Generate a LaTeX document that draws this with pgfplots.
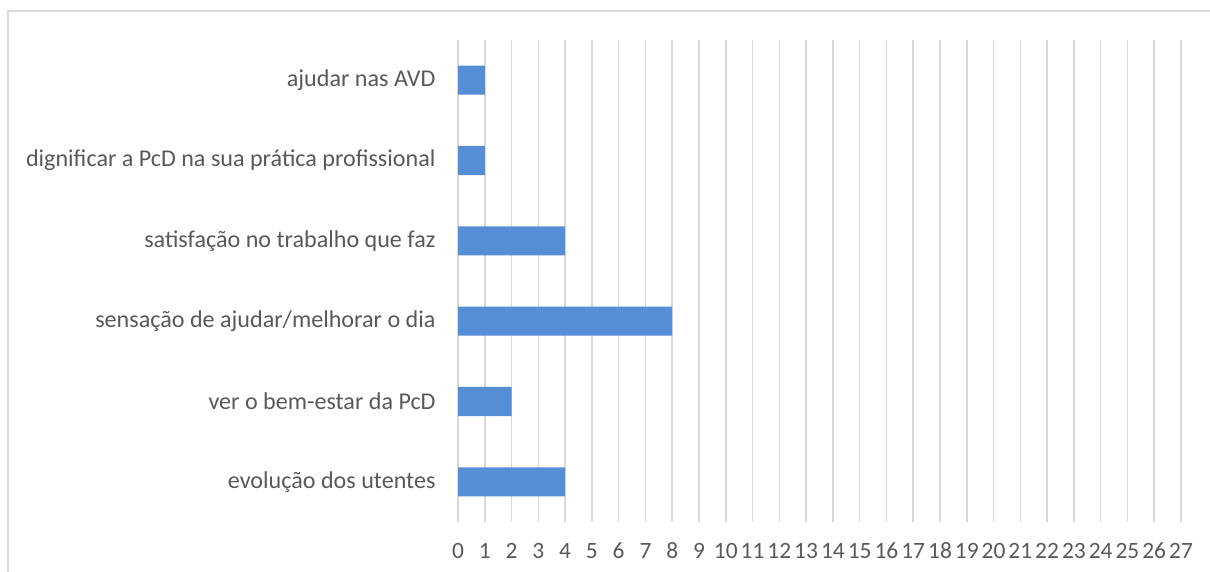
\documentclass[border=0pt]{standalone}
\usepackage{pgfplots}
\pgfplotsset{compat=1.18}
\usepackage{fontspec}
\setmainfont{Carlito}
\definecolor{barblue}{HTML}{558ED5}
\definecolor{gridgray}{HTML}{D9D9D9}
\definecolor{txtgray}{HTML}{595959}
\begin{document}
\begin{tikzpicture}
\useasboundingbox (0,0) rectangle (1210bp,572bp);
% chart area frame (cut off at right and bottom)
\draw[gridgray, line width=1.5bp] (8bp,-20bp) -- (8bp,561bp) -- (1230bp,561bp);
\begin{axis}[
    at={(458bp,50bp)}, anchor=south west,
    scale only axis,
    width=723bp, height=482bp,
    xmin=0, xmax=27, ymin=-0.5, ymax=5.5,
    xtick={0,1,...,27},
    ytick={0,1,2,3,4,5},
    yticklabels={evolução dos utentes, ver o bem-estar da PcD, sensação de ajudar/melhorar o dia, satisfação no trabalho que faz, dignificar a PcD na sua prática profissional, ajudar nas AVD},
    axis line style={draw=none},
    major tick length=0pt,
    xmajorgrids,
    grid style={gridgray, line width=1.5bp},
    tick label style={text=txtgray},
    xticklabel style={font=\fontsize{23.5}{28}\selectfont, anchor=base, yshift=-36bp},
    yticklabel style={font=\fontsize{24.2}{29}\selectfont, xshift=-19bp},
    /pgf/number format/assume math mode=true,
    xbar, bar width=29bp,
]
\addplot[fill=barblue, draw=none] coordinates {
    (4,0) (2,1) (8,2) (4,3) (1,4) (1,5)
};
\end{axis}
\end{tikzpicture}
\end{document}
